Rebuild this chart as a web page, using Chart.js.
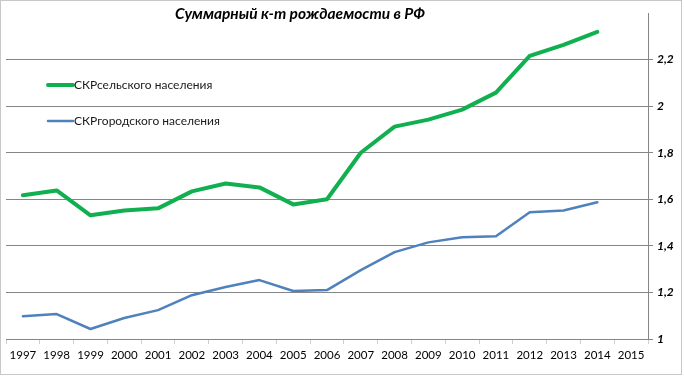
<!DOCTYPE html>
<html><head><meta charset="utf-8">
<script src="https://cdn.jsdelivr.net/npm/chart.js@4"></script>
<style>
html,body{margin:0;padding:0;background:#fff;}
#wrap{position:absolute;left:0;top:0;width:684px;height:379px;}
#frame{position:absolute;left:0;top:0;width:680px;height:373px;border:1px solid #c8c8c8;pointer-events:none;}
</style></head>
<body>
<div id="wrap"><canvas id="c" width="684" height="379"></canvas><div id="frame"></div></div>
<script>
const chartTitle = 'Суммарный к-т рождаемости в РФ';
const years = ['1997','1998','1999','2000','2001','2002','2003','2004','2005','2006','2007','2008','2009','2010','2011','2012','2013','2014','2015'];
const ruralLabel = 'СКРсельского населения';
const urbanLabel = 'СКРгородского населения';
const ruralTFR = [1.617,1.638,1.531,1.552,1.561,1.634,1.668,1.651,1.578,1.600,1.800,1.912,1.942,1.985,2.058,2.216,2.263,2.319,null];
const urbanTFR = [1.098,1.107,1.043,1.090,1.124,1.188,1.223,1.253,1.206,1.210,1.296,1.373,1.415,1.437,1.441,1.544,1.552,1.587,null];
const yTicks = [1,1.2,1.4,1.6,1.8,2,2.2];

const overlay = {
  id:'overlay',
  afterDraw(chart){
    const ctx = chart.ctx;
    ctx.save();
    ctx.fillStyle = '#000';
    ctx.font = 'italic bold 15.5px Lato';
    ctx.textAlign = 'center';
    ctx.textBaseline = 'alphabetic';
    ctx.fillText(chartTitle, 300, 19);
    const items = [[0,85],[1,121]];
    ctx.font = '12px Lato';
    ctx.textAlign = 'left';
    ctx.textBaseline = 'middle';
    items.forEach(([i,y])=>{
      const ds = chart.data.datasets[i];
      ctx.strokeStyle = ds.borderColor;
      ctx.lineWidth = ds.borderWidth;
      ctx.lineCap = 'round';
      ctx.beginPath(); ctx.moveTo(48,y); ctx.lineTo(73,y); ctx.stroke();
      ctx.fillStyle = '#1a1a1a';
      ctx.fillText(ds.label, 74, y);
    });
    ctx.restore();
  }
};

new Chart(document.getElementById('c'), {
  type:'line',
  data:{
    labels: years,
    datasets:[
      {label: ruralLabel, data: ruralTFR, borderColor:'#10b050', borderWidth:4, pointRadius:0, tension:0, borderJoinStyle:'round', borderCapStyle:'round'},
      {label: urbanLabel, data: urbanTFR, borderColor:'#4f81bd', borderWidth:2.5, pointRadius:0, tension:0, borderJoinStyle:'round', borderCapStyle:'round'}
    ]
  },
  options:{
    responsive:false,
    devicePixelRatio:1,
    animation:false,
    events:[],
    layout:{padding:{left:6,top:13,right:0,bottom:0}},
    plugins:{legend:{display:false},title:{display:false},tooltip:{enabled:false}},
    scales:{
      x:{
        offset:true,
        grid:{offset:true,drawOnChartArea:false,drawTicks:true,tickLength:5,color:'#d0d0d0'},
        border:{color:'#868686',width:1},
        ticks:{color:'#000',font:{family:'Lato',size:11.5},padding:4,maxRotation:0,autoSkip:false},
        afterFit(s){s.height=40;}
      },
      y:{
        position:'right',
        min:1,max:2.4,
        afterBuildTicks(s){s.ticks = yTicks.concat([2.4]).map(v=>({value:v}));},
        grid:{color:(c)=> (c.tick && Math.abs(c.tick.value-2.4)<1e-6) ? 'rgba(0,0,0,0)' : '#868686', tickLength:5, drawTicks:true},
        border:{color:'#868686',width:1},
        ticks:{color:'#000',font:{family:'Lato',size:12,style:'italic',weight:'bold'},padding:4,
          callback:(v)=> Math.abs(v-2.4)<1e-6 ? '' : String(Math.round(v*10)/10).replace('.',',')},
        afterFit(s){s.width=36;}
      }
    }
  },
  plugins:[overlay]
});
</script>
</body></html>
